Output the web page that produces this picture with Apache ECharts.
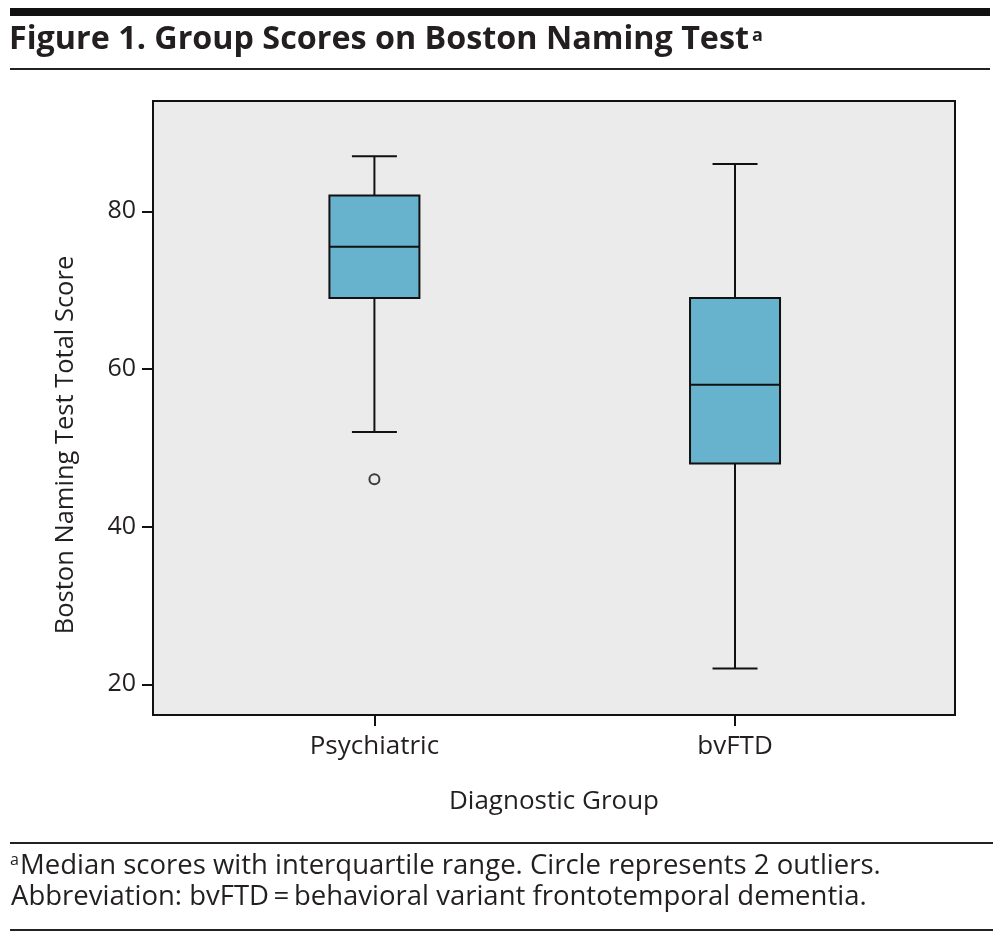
<!DOCTYPE html>
<html><head><meta charset="utf-8">
<script src="https://cdn.jsdelivr.net/npm/echarts@6/dist/echarts.min.js"></script>
<style>html,body{margin:0;padding:0;background:#fff}#c{width:1004px;height:939px}</style>
</head><body><div id="c"></div>
<script>
var categories = ['Psychiatric', 'bvFTD'];
// [min whisker, Q1, median, Q3, max whisker]
var boxValues = [
  [52, 69, 75.5, 82, 87],
  [22, 48, 58, 69, 86]
];
var outliers = [[0, 46]];
var yTicks = [20, 40, 60, 80];
var titleText = 'Figure 1. Group Scores on Boston Naming Test';
var yName = 'Boston Naming Test Total Score';
var xName = 'Diagnostic Group';
var noteLine1 = 'Median scores with interquartile range. Circle represents 2 outliers.';
var noteLine2 = 'Abbreviation: bvFTD\u2009=\u2009behavioral variant frontotemporal dementia.';

var FONT = 'Open Sans';
var INK = '#231f20';
var TITLE_FS = 32.3, NOTE_FS = 27.5;

var mctx = document.createElement('canvas').getContext('2d');
mctx.font = 'bold ' + TITLE_FS + 'px "Open Sans"';
var titleW = mctx.measureText(titleText).width;

var chart = echarts.init(document.getElementById('c'), null, {renderer: 'canvas'});
var boxData = boxValues.map(function (v, i) { return [i].concat(v); });

chart.setOption({
  backgroundColor: '#ffffff',
  animation: false,
  grid: {left: 153, right: 49, top: 101, bottom: 224, show: true,
    backgroundColor: '#ebebeb', borderColor: '#111', borderWidth: 2},
  xAxis: {
    type: 'value', min: -0.614, max: 1.61,
    splitLine: {show: false},
    axisLine: {show: true, onZero: false, lineStyle: {color: '#111', width: 2}},
    axisTick: {show: true, length: 11, lineStyle: {color: '#111', width: 2}, customValues: [0, 1]},
    axisLabel: {customValues: [0, 1], margin: 19, fontFamily: FONT, fontSize: 26, color: INK,
      formatter: function (v) { return categories[Math.round(v)] || ''; }},
    name: xName, nameLocation: 'middle', nameGap: 74,
    nameTextStyle: {fontFamily: FONT, fontSize: 26, color: INK}
  },
  yAxis: {
    type: 'value', min: 16.1, max: 94,
    splitLine: {show: false},
    axisLine: {show: true, onZero: false, lineStyle: {color: '#111', width: 2}},
    axisTick: {show: true, length: 11, lineStyle: {color: '#111', width: 2}, customValues: yTicks},
    axisLabel: {customValues: yTicks, margin: 17, fontFamily: FONT, fontSize: 25, color: INK}
  },
  series: [{
    type: 'custom',
    data: boxData,
    encode: {x: 0, y: [1, 2, 3, 4, 5]},
    renderItem: function (params, api) {
      var x = api.value(0);
      var pMin = api.coord([x, api.value(1)]);
      var pQ1 = api.coord([x, api.value(2)]);
      var pMed = api.coord([x, api.value(3)]);
      var pQ3 = api.coord([x, api.value(4)]);
      var pMax = api.coord([x, api.value(5)]);
      var cx = pMin[0];
      var hw = 45, cw = 22.5;
      var ls = {stroke: '#111', lineWidth: 2};
      return {type: 'group', children: [
        {type: 'line', shape: {x1: cx, y1: pMax[1], x2: cx, y2: pQ3[1]}, style: ls},
        {type: 'line', shape: {x1: cx, y1: pQ1[1], x2: cx, y2: pMin[1]}, style: ls},
        {type: 'line', shape: {x1: cx - cw, y1: pMax[1], x2: cx + cw, y2: pMax[1]}, style: ls},
        {type: 'line', shape: {x1: cx - cw, y1: pMin[1], x2: cx + cw, y2: pMin[1]}, style: ls},
        {type: 'rect', shape: {x: cx - hw, y: pQ3[1], width: hw * 2, height: pQ1[1] - pQ3[1]},
          style: {fill: '#67b2cc', stroke: '#111', lineWidth: 2}},
        {type: 'line', shape: {x1: cx - hw, y1: pMed[1], x2: cx + hw, y2: pMed[1]}, style: ls}
      ]};
    }
  }, {
    type: 'scatter',
    data: outliers,
    symbol: 'circle', symbolSize: 10,
    itemStyle: {color: '#ebebeb', borderColor: '#111', borderWidth: 2}
  }],
  graphic: [
    {type: 'rect', shape: {x: 10, y: 8, width: 980, height: 8}, style: {fill: '#111'}},
    {type: 'text', x: 9, y: 40.3, style: {
      text: titleText, fontFamily: FONT, fontWeight: 'bold', fontSize: TITLE_FS, fill: INK, verticalAlign: 'middle'}},
    {type: 'text', x: 9 + titleW + 3, y: 35.6, style: {
      text: 'a', fontFamily: FONT, fontWeight: 'bold', fontSize: 18, fill: INK, verticalAlign: 'middle'}},
    {type: 'rect', shape: {x: 10, y: 68, width: 980, height: 2}, style: {fill: '#222'}},
    {type: 'text', x: 66, y: 445, rotation: Math.PI / 2, style: {
      text: yName, fontFamily: FONT, fontSize: 25.5, fill: INK, align: 'center', verticalAlign: 'middle'}},
    {type: 'rect', shape: {x: 10, y: 842, width: 983, height: 2}, style: {fill: '#222'}},
    {type: 'text', x: 10, y: 860.2, style: {
      text: 'a', fontFamily: FONT, fontSize: 16, fill: INK, verticalAlign: 'middle'}},
    {type: 'text', x: 20, y: 865.8, style: {
      text: noteLine1, fontFamily: FONT, fontSize: NOTE_FS, fill: INK, verticalAlign: 'middle'}},
    {type: 'text', x: 11, y: 896.8, style: {
      text: noteLine2, fontFamily: FONT, fontSize: NOTE_FS, fill: INK, verticalAlign: 'middle'}},
    {type: 'rect', shape: {x: 10, y: 929, width: 983, height: 2}, style: {fill: '#222'}}
  ]
});
</script></body></html>
